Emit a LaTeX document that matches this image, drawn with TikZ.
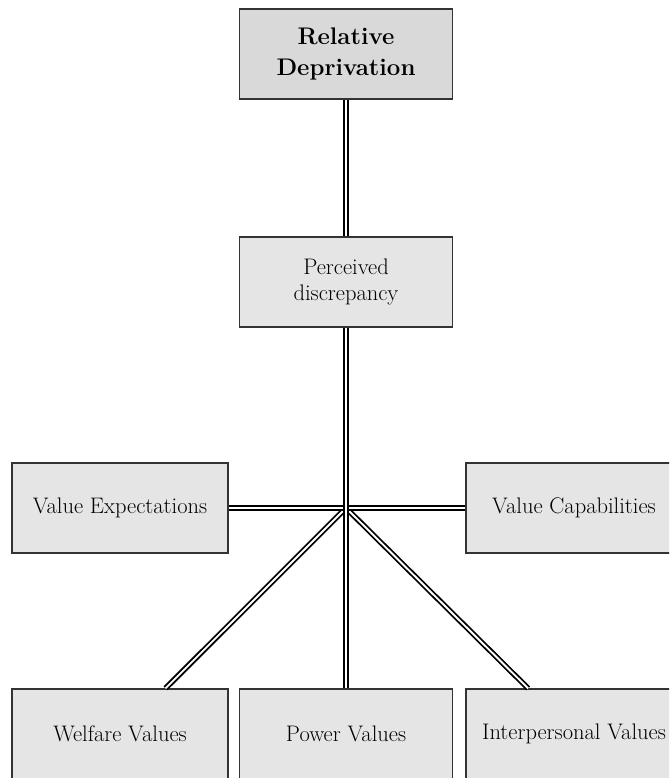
\documentclass[tikz,border=0pt]{standalone}
\usepackage{amsmath,amssymb}
\usepackage{tikz}

\begin{document}
\begin{tikzpicture}[
	x=1pt, y=-1pt,
	boxTop/.style={rectangle, draw=black!80, fill=black!15, line width=1.2pt, inner sep=2pt, minimum width=213pt, minimum height=90pt, align=center, font=\fontsize{24}{31}\selectfont\bfseries},
	boxPlain/.style={rectangle, draw=black!80, fill=black!10, line width=1.2pt, inner sep=2pt, minimum width=216pt, minimum height=90pt, align=center, font=\fontsize{22.5}{26}\selectfont},
	linkDouble/.style={draw=black, line width=1.8pt, double=white, double distance=1.9pt}
]

\clip (0,0) rectangle (669,778);

\node[boxTop] (relDep) at (346, 54) {Relative\\Deprivation};
\node[boxPlain, minimum width=213pt] (percDisc) at (346, 282) {Perceived\\discrepancy};

\node[boxPlain] (valExp) at (120, 508) {Value Expectations};
\node[boxPlain] (valCap) at (574, 508) {Value Capabilities};

\node[boxPlain] (welVal) at (120, 734) {Welfare Values};
\node[boxPlain, minimum width=213pt] (powVal) at (346, 734) {Power Values};
\node[boxPlain] (intVal) at (574, 734) {Interpersonal Values};

\coordinate (hub) at (346, 508);

\draw [linkDouble] (relDep) to (percDisc);
\draw [linkDouble] (hub) to (welVal);
\draw [linkDouble] (hub) to (intVal);
\draw [linkDouble] (valExp) to (valCap);
\draw [linkDouble] (percDisc) to (powVal);
\end{tikzpicture}
\end{document}
